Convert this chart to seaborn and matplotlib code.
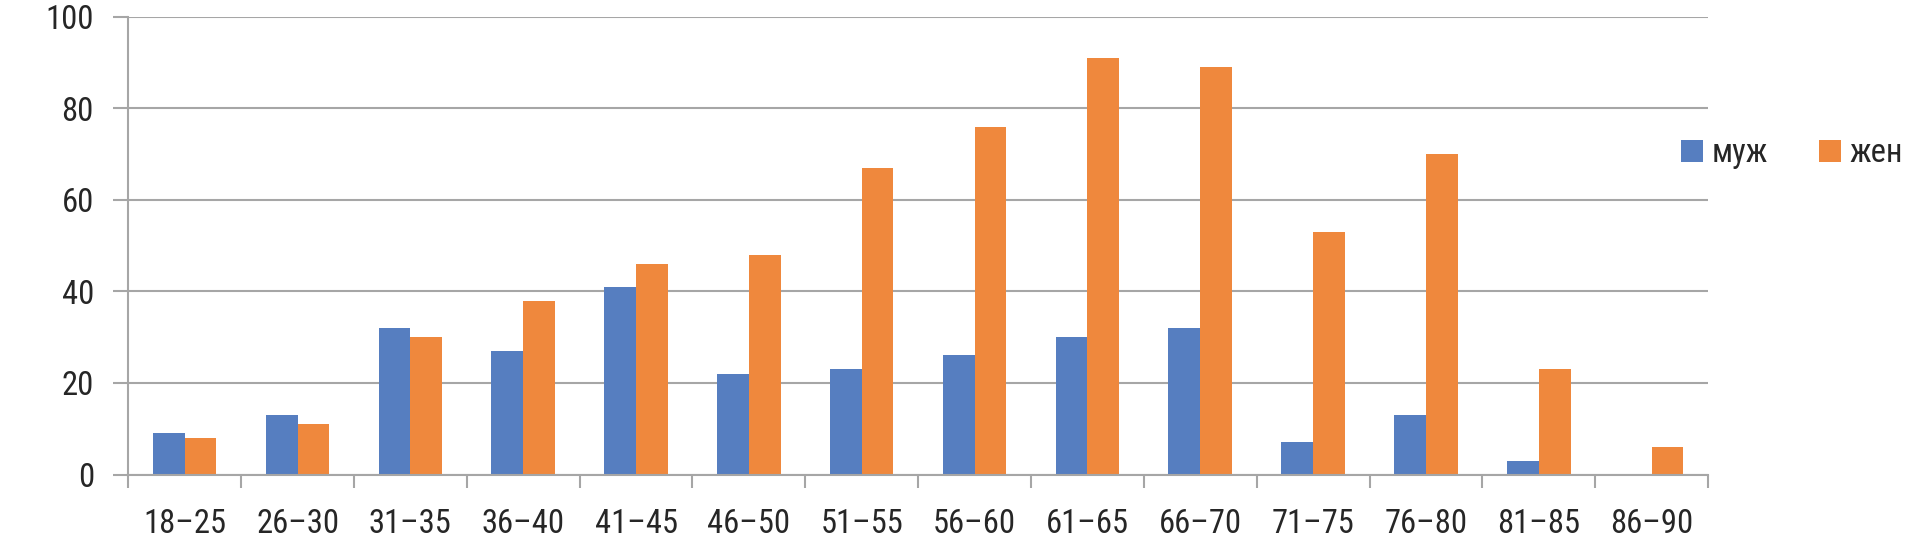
import matplotlib
matplotlib.use("Agg")
import matplotlib.pyplot as plt
from matplotlib import font_manager
import numpy as np
import pandas as pd
import seaborn as sns

# Age groups and counts per sex
age_groups = ['18–25', '26–30', '31–35', '36–40', '41–45', '46–50', '51–55',
              '56–60', '61–65', '66–70', '71–75', '76–80', '81–85', '86–90']
men = [9, 13, 32, 27, 41, 22, 23, 26, 30, 32, 7, 13, 3, 0]
women = [8, 11, 30, 38, 46, 48, 67, 76, 91, 89, 53, 70, 23, 6]
series_names = ['муж', 'жен']
series_colors = ['#567EC0', '#EF883D']
y_ticks = [0, 20, 40, 60, 80, 100]

df = pd.DataFrame({
    'age': age_groups * 2,
    'count': men + women,
    'sex': [series_names[0]] * len(age_groups) + [series_names[1]] * len(age_groups),
})

# pick a narrow sans with cyrillic if one is installed
installed = {f.name for f in font_manager.fontManager.ttflist}
narrow = ['Arial Narrow', 'Liberation Sans Narrow', 'Roboto Condensed',
          'PT Sans Narrow', 'Fira Sans Condensed']
font = next((f for f in narrow if f in installed), 'DejaVu Sans')

sns.set_style("white")
plt.rcParams['font.family'] = [font, 'DejaVu Sans']
grid_col = '#A6A6A6'
fs = 23.5

fig = plt.figure(figsize=(19.14, 5.54), dpi=100)
ax = fig.add_axes([0.0670, 0.1435, 0.8254, 0.8264])

sns.barplot(data=df, x='age', y='count', hue='sex', order=age_groups,
            hue_order=series_names, palette=series_colors, saturation=1,
            width=0.563, gap=0, linewidth=0, ax=ax)

ax.set_xlim(-0.5, len(age_groups) - 0.5)
ax.set_ylim(0, 100)
ax.set_yticks(y_ticks)
ax.set_xlabel('')
ax.set_ylabel('')

# horizontal grid
ax.yaxis.grid(True, color=grid_col, linewidth=1.5)
ax.set_axisbelow(True)
for s in ['top', 'right']:
    ax.spines[s].set_visible(False)
for s in ['left', 'bottom']:
    ax.spines[s].set_color(grid_col)
    ax.spines[s].set_linewidth(1.5)

# ticks: y outward, x at category boundaries
ax.tick_params(axis='y', direction='out', length=10.8, width=1.5, color=grid_col,
               pad=14, labelsize=fs, left=True)
ax.set_xticks(np.arange(-0.5, len(age_groups)), minor=True)
ax.tick_params(axis='x', which='minor', direction='out', length=9.5, width=1.5,
               color=grid_col, bottom=True)
ax.tick_params(axis='x', which='major', length=0, pad=24, labelsize=fs)

sns.move_legend(ax, loc='center left', bbox_to_anchor=(0.9829, 0.7023), ncol=2,
                frameon=False, title=None, fontsize=fs, borderpad=0,
                borderaxespad=0, handlelength=0.66, handleheight=0.66,
                handletextpad=0.27, columnspacing=1.58)

fig.savefig('out.png', dpi=100)
